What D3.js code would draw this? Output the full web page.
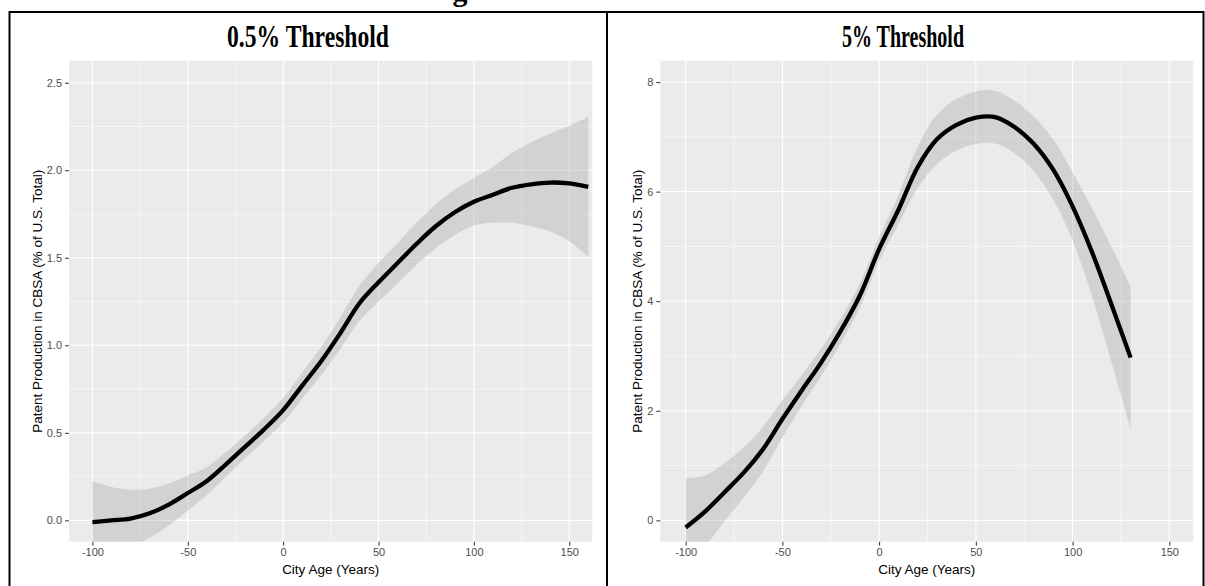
<!DOCTYPE html>
<html>
<head>
<meta charset="utf-8">
<script src="https://cdn.jsdelivr.net/npm/d3@7"></script>
<style>
  body { margin: 0; background: #fff; }
  svg { display: block; }
</style>
</head>
<body>
<svg width="1205" height="586"></svg>
<script>
// panel titles
const titles = ["0.5% Threshold", "5% Threshold"];

// 0.5% threshold: loess fit and confidence band
const ages1 = [-100, -90, -80, -70, -60, -50, -40, -30, -20, -10, 0, 10, 20, 30, 40, 50, 60, 70, 80, 90, 100, 110, 120, 130, 140, 150, 160];
const fit1 = [-0.01, 0.0, 0.01, 0.04, 0.09, 0.156, 0.225, 0.32, 0.42, 0.52, 0.63, 0.77, 0.91, 1.07, 1.24, 1.36, 1.47, 1.58, 1.68, 1.76, 1.82, 1.86, 1.9, 1.92, 1.93, 1.925, 1.905];
const upper1 = [0.225, 0.19, 0.175, 0.18, 0.21, 0.256, 0.305, 0.39, 0.485, 0.585, 0.70, 0.845, 0.99, 1.16, 1.34, 1.47, 1.585, 1.70, 1.805, 1.89, 1.955, 2.02, 2.10, 2.16, 2.21, 2.255, 2.305];
const lower1 = [-0.245, -0.19, -0.155, -0.10, -0.03, 0.056, 0.145, 0.25, 0.355, 0.455, 0.56, 0.695, 0.83, 0.98, 1.14, 1.25, 1.355, 1.46, 1.555, 1.63, 1.685, 1.70, 1.70, 1.68, 1.65, 1.595, 1.505];

// 5% threshold
const ages2 = [-100, -90, -80, -70, -60, -50, -40, -30, -20, -10, 0, 10, 20, 30, 40, 50, 60, 70, 80, 90, 100, 110, 120, 130];
const fit2 = [-0.13, 0.16, 0.51, 0.87, 1.30, 1.85, 2.37, 2.88, 3.45, 4.10, 4.95, 5.67, 6.45, 6.96, 7.22, 7.35, 7.36, 7.18, 6.87, 6.40, 5.73, 4.9, 3.95, 2.97];
const upper2 = [0.77, 0.82, 1.04, 1.33, 1.71, 2.19, 2.65, 3.13, 3.68, 4.32, 5.17, 5.94, 6.83, 7.41, 7.69, 7.83, 7.84, 7.66, 7.37, 6.95, 6.35, 5.70, 5.00, 4.27];
const lower2 = [-1.03, -0.50, -0.02, 0.41, 0.89, 1.51, 2.09, 2.63, 3.22, 3.88, 4.73, 5.40, 6.07, 6.51, 6.75, 6.87, 6.88, 6.70, 6.37, 5.85, 5.11, 4.10, 2.90, 1.67];

// ticks
const xTicks = [-100, -50, 0, 50, 100, 150];
const xMinor = [-75, -25, 25, 75, 125];
const yTicks1 = [0, 0.5, 1.0, 1.5, 2.0, 2.5];
const yMinor1 = [0.25, 0.75, 1.25, 1.75, 2.25];
const yTicks2 = [0, 2, 4, 6, 8];
const yMinor2 = [1, 3, 5, 7];

const svg = d3.select("svg");

// cut-off figure caption and the table lines around the two panels
svg.append("text")
    .attr("x", 460).attr("y", 1)
    .attr("text-anchor", "middle")
    .style("font-family", "Liberation Serif").style("font-weight", "bold").style("font-size", "30px")
    .text("g");
svg.append("rect")
    .attr("x", 9.5).attr("y", 12)
    .attr("width", 1194).attr("height", 600)
    .attr("fill", "none").attr("stroke", "black").attr("stroke-width", 2);
svg.append("line")
    .attr("x1", 607).attr("x2", 607).attr("y1", 12).attr("y2", 586)
    .attr("stroke", "black").attr("stroke-width", 2);

function drawPanel(opt) {
    const x = d3.scaleLinear().domain(opt.xDomain).range([opt.left, opt.right]);
    const y = d3.scaleLinear().domain(opt.yDomain).range([opt.bottom, opt.top]);
    const g = svg.append("g");

    //title
    g.append("text")
        .attr("x", opt.titleX).attr("y", 47)
        .attr("text-anchor", "middle")
        .attr("textLength", opt.titleLen).attr("lengthAdjust", "spacingAndGlyphs")
        .style("font-family", "Liberation Serif").style("font-weight", "bold").style("font-size", "32px")
        .text(opt.title);

    //background
    g.append("rect")
        .attr("x", opt.left).attr("y", opt.top)
        .attr("width", opt.right - opt.left).attr("height", opt.bottom - opt.top)
        .attr("fill", "#EBEBEB");

    //grid
    opt.yMinor.forEach(v => g.append("line")
        .attr("x1", opt.left).attr("x2", opt.right).attr("y1", y(v)).attr("y2", y(v))
        .attr("stroke", "white").attr("stroke-width", 0.6));
    xMinor.forEach(v => g.append("line")
        .attr("x1", x(v)).attr("x2", x(v)).attr("y1", opt.top).attr("y2", opt.bottom)
        .attr("stroke", "white").attr("stroke-width", 0.6));
    opt.yTicks.forEach(v => g.append("line")
        .attr("x1", opt.left).attr("x2", opt.right).attr("y1", y(v)).attr("y2", y(v))
        .attr("stroke", "white").attr("stroke-width", 1.1));
    xTicks.forEach(v => g.append("line")
        .attr("x1", x(v)).attr("x2", x(v)).attr("y1", opt.top).attr("y2", opt.bottom)
        .attr("stroke", "white").attr("stroke-width", 1.1));

    const clipId = "clip" + opt.id;
    g.append("clipPath").attr("id", clipId)
        .append("rect")
        .attr("x", opt.left).attr("y", opt.top)
        .attr("width", opt.right - opt.left).attr("height", opt.bottom - opt.top);

    const rows = opt.ages.map((a, i) => ({a, f: opt.fit[i], lo: opt.lower[i], hi: opt.upper[i]}));

    //confidence band
    const area = d3.area()
        .x(d => x(d.a)).y0(d => y(d.lo)).y1(d => y(d.hi))
        .curve(d3.curveCatmullRom.alpha(0.5));
    g.append("path").datum(rows)
        .attr("clip-path", `url(#${clipId})`)
        .attr("d", area)
        .attr("fill", "#999999").attr("fill-opacity", 0.3);

    //fitted line
    const line = d3.line().x(d => x(d.a)).y(d => y(d.f)).curve(d3.curveCatmullRom.alpha(0.5));
    g.append("path").datum(rows)
        .attr("clip-path", `url(#${clipId})`)
        .attr("d", line)
        .attr("fill", "none").attr("stroke", "black").attr("stroke-width", 4.3);

    //axes
    const ax = g.append("g").attr("transform", `translate(0,${opt.bottom})`)
        .call(d3.axisBottom(x).tickValues(xTicks).tickSize(4).tickPadding(3).tickFormat(d => String(d)));
    const ay = g.append("g").attr("transform", `translate(${opt.left},0)`)
        .call(d3.axisLeft(y).tickValues(opt.yTicks).tickSize(4).tickPadding(3).tickFormat(opt.yFormat));
    [ax, ay].forEach(a => {
        a.select(".domain").remove();
        a.selectAll(".tick line").attr("stroke", "#333333").attr("stroke-width", 1);
        a.selectAll(".tick text")
            .attr("fill", "#4D4D4D")
            .style("font-family", "Liberation Sans, Arial").style("font-size", "11px");
    });

    //axis titles
    g.append("text")
        .attr("x", (opt.left + opt.right) / 2).attr("y", 574)
        .attr("text-anchor", "middle")
        .style("font-family", "Liberation Sans, Arial").style("font-size", "13.5px")
        .text("City Age (Years)");
    g.append("text")
        .attr("transform", `translate(${opt.yTitleX},${(opt.top + opt.bottom) / 2}) rotate(-90)`)
        .attr("text-anchor", "middle")
        .style("font-family", "Liberation Sans, Arial").style("font-size", "13.5px")
        .text("Patent Production in CBSA (% of U.S. Total)");
}

drawPanel({
    id: 1, title: titles[0], titleX: 308, titleLen: 162,
    left: 69, right: 592.3, top: 60.7, bottom: 541.7,
    xDomain: [-112.3, 162.1], yDomain: [-0.122, 2.626],
    yTicks: yTicks1, yMinor: yMinor1, yFormat: d3.format(".1f"),
    ages: ages1, fit: fit1, upper: upper1, lower: lower1,
    yTitleX: 42
});

drawPanel({
    id: 2, title: titles[1], titleX: 903, titleLen: 122,
    left: 660.3, right: 1193.3, top: 60.7, bottom: 541.7,
    xDomain: [-113.1, 162.4], yDomain: [-0.39, 8.39],
    yTicks: yTicks2, yMinor: yMinor2, yFormat: d => String(d),
    ages: ages2, fit: fit2, upper: upper2, lower: lower2,
    yTitleX: 642
});
</script>
</body>
</html>
